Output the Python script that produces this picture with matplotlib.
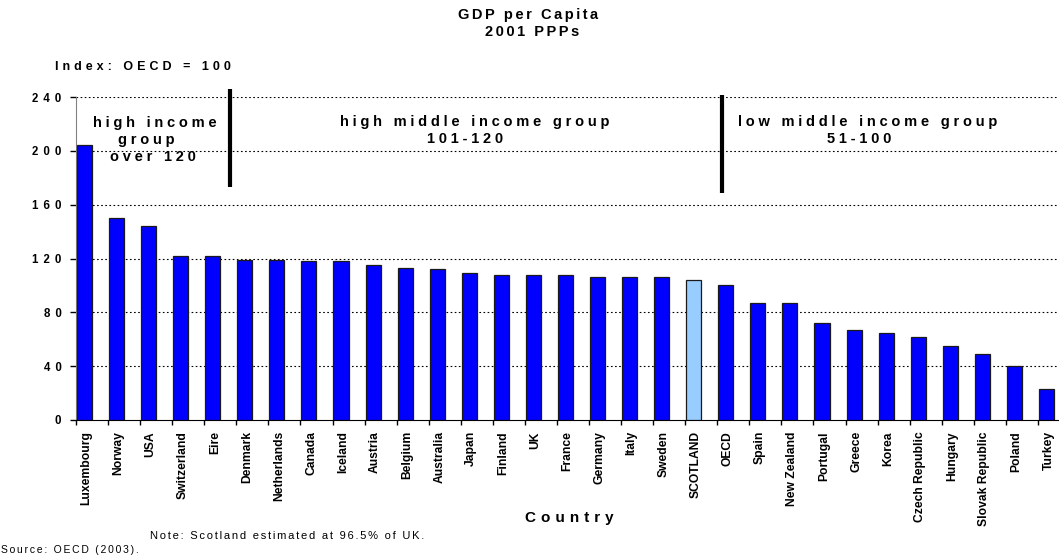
import matplotlib
matplotlib.use("Agg")
import matplotlib.pyplot as plt
from matplotlib.textpath import TextPath
from matplotlib.font_manager import FontProperties

countries = ["Luxembourg", "Norway", "USA", "Switzerland", "Eire", "Denmark",
             "Netherlands", "Canada", "Iceland", "Austria", "Belgium", "Australia",
             "Japan", "Finland", "UK", "France", "Germany", "Italy", "Sweden",
             "SCOTLAND", "OECD", "Spain", "New Zealand", "Portugal", "Greece",
             "Korea", "Czech Republic", "Hungary", "Slovak Republic", "Poland", "Turkey"]
gdp_index = [204, 150, 144, 122, 122, 119, 119, 118, 118, 115, 113, 112,
             109, 108, 108, 108, 106.5, 106.5, 106, 104.2, 100, 87, 87, 72, 67,
             65, 62, 55, 49, 40, 23]
y_ticks = [0, 40, 80, 120, 160, 200, 240]

FAM = ['Liberation Sans', 'DejaVu Sans']
plt.rcParams['font.family'] = FAM
DPI = 100
HS = "\u200a"


def hair_px(size_pt, weight):
    """Width in pixels of one hair space at the given font size."""
    fp = FontProperties(family=FAM, size=size_pt, weight=weight)
    w1 = TextPath((0, 0), "a" + HS * 20 + "a", prop=fp).get_extents().width
    w0 = TextPath((0, 0), "aa", prop=fp).get_extents().width
    return max((w1 - w0) / 20.0 * DPI / 72.0, 0.01)


def sp(text, size_pt, gap_px, weight='bold'):
    """Spread the letters of text by about gap_px pixels (Excel character spacing)."""
    n = max(int(round(gap_px / hair_px(size_pt, weight))), 0)
    return (HS * n).join(text)


W, H = 1059, 558
fig = plt.figure(figsize=(W / DPI, H / DPI), dpi=DPI)
ax = fig.add_axes([76 / W, 1 - 420 / H, 994 / W, 323 / H])


def fx(px):
    return px / W


def fy(py):
    return 1 - py / H


colors = ["#99CCFF" if c == "SCOTLAND" else "#0000FF" for c in countries]
xs = [i + 0.03 for i in range(len(countries))]
ax.bar(xs, gdp_index, width=0.47, align='edge', color=colors,
       edgecolor='#1a1a1a', linewidth=0.9, zorder=3)

ax.set_xlim(0, len(countries))
ax.set_ylim(0, 240)

tick_fs = 8.3
ax.set_yticks(y_ticks)
ax.set_yticklabels([sp(str(v), tick_fs, 5.0) for v in y_ticks], fontsize=tick_fs,
                   fontweight='bold')
for v in y_ticks[1:]:
    ax.axhline(v, color='black', linestyle=(0, (1.5, 2.2)), linewidth=0.8, zorder=1)

ax.set_xticks(range(len(countries) + 1))
ax.set_xticklabels([])
ax.set_xticks([i + 0.33 for i in range(len(countries))], minor=True)
ax.set_xticklabels(countries, minor=True, rotation=90, fontsize=8.7, fontweight='bold')
ax.tick_params(axis='x', which='minor', length=0, pad=8)
ax.tick_params(axis='x', which='major', length=3.5, width=1, direction='out')
ax.tick_params(axis='y', length=4.5, width=1, direction='out', pad=6)

for s in ['top', 'right']:
    ax.spines[s].set_visible(False)
ax.spines['left'].set_color('#808080')
ax.spines['bottom'].set_color('black')

# group dividers
ax.plot([4.8, 4.8], [173, 246], color='black', linewidth=3, clip_on=False, zorder=4,
        solid_capstyle='butt')
ax.plot([20.14, 20.14], [168.7, 241.5], color='black', linewidth=3, clip_on=False,
        zorder=4, solid_capstyle='butt')

gfs = 10.5
ggap = 3.4
for txt, x, y in [("high income", 155, 123), ("group", 146.5, 140),
                  ("over 120", 153, 157),
                  ("high middle income group", 475, 122), ("101-120", 465.5, 139),
                  ("low middle income group", 867.5, 122), ("51-100", 859.5, 139)]:
    fig.text(fx(x), fy(y), sp(txt, gfs, ggap), ha='center', va='center',
             fontsize=gfs, fontweight='bold')

fig.text(fx(528), fy(15.5), sp("GDP per Capita", 10.5, 3.0), ha='center', va='center',
         fontsize=10.5, fontweight='bold')
fig.text(fx(532), fy(32.5), sp("2001 PPPs", 10.5, 3.0), ha='center', va='center',
         fontsize=10.5, fontweight='bold')
fig.text(fx(55), fy(67.5), sp("Index: OECD = 100", 9, 4.0), ha='left', va='center',
         fontsize=9, fontweight='bold')
fig.text(fx(569), fy(518), sp("Country", 11, 4.9), ha='center', va='center',
         fontsize=11, fontweight='bold')
fig.text(fx(150), fy(536), sp("Note: Scotland estimated at 96.5% of UK.", 8, 2.3,
                              'normal'),
         ha='left', va='center', fontsize=8)
fig.text(fx(1), fy(550), sp("Source: OECD (2003).", 7.5, 1.8, 'normal'),
         ha='left', va='center', fontsize=7.5)

fig.savefig("out.png", dpi=DPI)
